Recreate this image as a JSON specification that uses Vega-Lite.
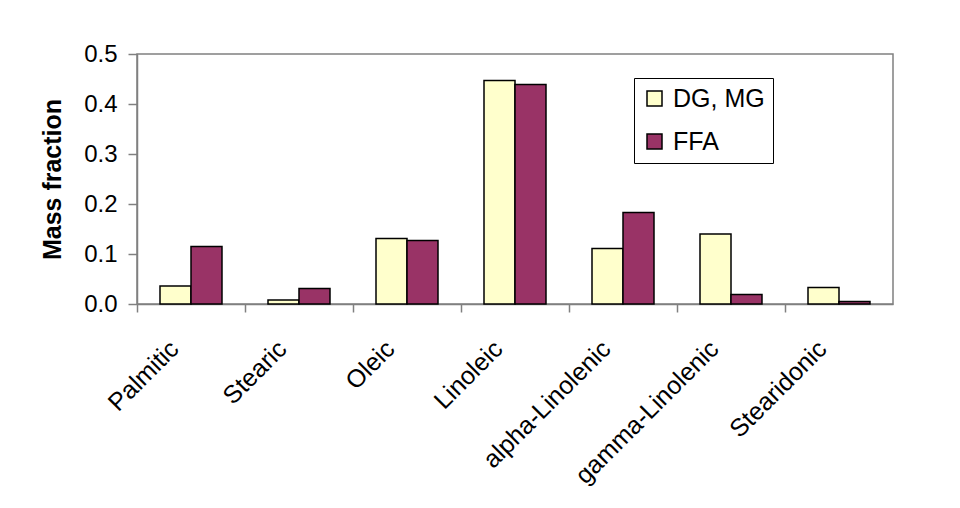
{
  "$schema": "https://vega.github.io/schema/vega-lite/v6.json",
  "autosize": {"type": "none"},
  "width": 756,
  "height": 250,
  "padding": {"left": 137, "top": 54, "right": 67, "bottom": 204},
  "background": "white",
  "config": {
    "view": {"stroke": "#808080", "strokeWidth": 1.5},
    "font": "Liberation Sans"
  },
  "data": {
    "values": [
      {"acid": "Palmitic", "type": "DG, MG", "value": 0.036},
      {"acid": "Palmitic", "type": "FFA", "value": 0.115},
      {"acid": "Stearic", "type": "DG, MG", "value": 0.008},
      {"acid": "Stearic", "type": "FFA", "value": 0.031},
      {"acid": "Oleic", "type": "DG, MG", "value": 0.131},
      {"acid": "Oleic", "type": "FFA", "value": 0.127},
      {"acid": "Linoleic", "type": "DG, MG", "value": 0.447},
      {"acid": "Linoleic", "type": "FFA", "value": 0.439},
      {"acid": "alpha-Linolenic", "type": "DG, MG", "value": 0.111},
      {"acid": "alpha-Linolenic", "type": "FFA", "value": 0.183},
      {"acid": "gamma-Linolenic", "type": "DG, MG", "value": 0.140},
      {"acid": "gamma-Linolenic", "type": "FFA", "value": 0.019},
      {"acid": "Stearidonic", "type": "DG, MG", "value": 0.033},
      {"acid": "Stearidonic", "type": "FFA", "value": 0.005}
    ]
  },
  "mark": {"type": "bar", "stroke": "black", "strokeWidth": 1.5},
  "encoding": {
    "x": {
      "field": "acid",
      "type": "nominal",
      "sort": null,
      "scale": {"paddingInner": 0, "paddingOuter": 0},
      "axis": {
        "title": null,
        "bandPosition": 0,
        "labelAngle": -45,
        "labelFontSize": 25,
        "labelColor": "black",
        "labelPadding": 24,
        "labelOffset": -25,
        "labelLimit": 400,
        "tickColor": "#808080",
        "tickSize": 8,
        "tickWidth": 1.5,
        "domainColor": "#808080",
        "domainWidth": 1.5
      }
    },
    "xOffset": {
      "field": "type",
      "type": "nominal",
      "scale": {"paddingInner": 0, "paddingOuter": 0.742}
    },
    "y": {
      "field": "value",
      "type": "quantitative",
      "scale": {"domain": [0, 0.5], "nice": false},
      "axis": {
        "title": "Mass fraction",
        "titleFontSize": 25,
        "titleFontWeight": "bold",
        "titleColor": "black",
        "titlePadding": 18,
        "values": [0, 0.1, 0.2, 0.3, 0.4, 0.5],
        "format": ".1f",
        "grid": false,
        "labelFontSize": 24,
        "labelColor": "black",
        "labelPadding": 11,
        "tickColor": "#808080",
        "tickSize": 9,
        "tickWidth": 1.5,
        "domainColor": "#808080",
        "domainWidth": 1.5
      }
    },
    "fill": {
      "field": "type",
      "type": "nominal",
      "scale": {"domain": ["DG, MG", "FFA"], "range": ["#FFFFCC", "#993366"]},
      "legend": {
        "title": null,
        "orient": "none",
        "legendX": 497,
        "legendY": 24,
        "strokeColor": "black",
        "fillColor": "white",
        "padding": 8,
        "symbolType": "square",
        "symbolSize": 225,
        "symbolStrokeColor": "black",
        "symbolStrokeWidth": 1.5,
        "labelFontSize": 25,
        "labelColor": "black",
        "labelOffset": 6,
        "rowPadding": 17
      }
    }
  }
}
